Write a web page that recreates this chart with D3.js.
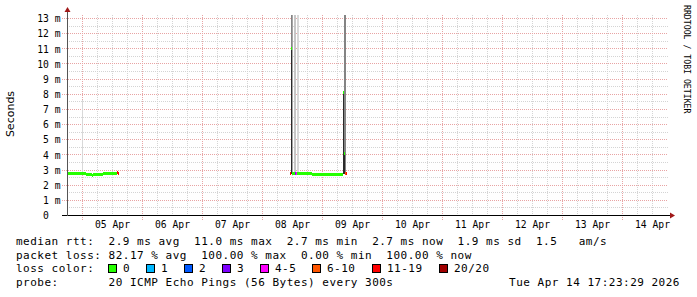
<!DOCTYPE html>
<html>
<head>
<meta charset="utf-8">
<script src="https://cdn.jsdelivr.net/npm/d3@7"></script>
<style>
  body { margin: 0; background: #fff; }
  text { font-family: "DejaVu Sans Mono", monospace; fill: #000; }
</style>
</head>
<body>
<svg id="chart" width="697" height="297"></svg>
<script>
// one entry per consolidated step (24 min per pixel at this zoom), null median = no data
const sampleTime = [
  '2026-04-04T18:00', '2026-04-05T00:00', '2026-04-05T00:24', '2026-04-05T01:36',
  '2026-04-05T04:00', '2026-04-05T04:24', '2026-04-05T08:24', '2026-04-05T14:00',
  '2026-04-05T14:24', '2026-04-05T14:48',
  '2026-04-08T11:12', '2026-04-08T11:36', '2026-04-08T12:00', '2026-04-08T12:24',
  '2026-04-08T12:48', '2026-04-08T13:12', '2026-04-08T13:36', '2026-04-08T14:00',
  '2026-04-08T14:24', '2026-04-08T14:48', '2026-04-08T20:00', '2026-04-09T00:00',
  '2026-04-09T05:00', '2026-04-09T08:00', '2026-04-09T08:24', '2026-04-09T08:48',
  '2026-04-09T09:12', '2026-04-09T09:36', '2026-04-09T10:00'
];
const medianMs = [
  2.75, 2.75, 2.75, 2.69, 2.64, 2.69, 2.75, 2.85, 2.8, null,
  2.75, 11.0, 2.75, 2.75, 2.78, 2.8, 2.8, 2.75, 2.75, 2.75, 2.73, 2.68,
  2.72, 2.72, 8.1, 4.1, 2.8, 2.8, null
];
const lossPings = [
  0, 0, 0, 0, 0, 0, 0, 15, 15, null,
  15, 0, 0, 0, 0, 3, 5, 0, 0, 0, 0, 0,
  0, 0, 0, 0, 8, 15, null
];
const smokeMinMs = [
  2.72, 2.72, 2.72, 2.66, 2.62, 2.66, 2.72, 2.82, 2.77, null,
  2.72, 2.7, 2.72, 2.72, 2.75, 2.77, 2.77, 2.72, 2.72, 2.72, 2.7, 2.66,
  2.7, 2.7, 2.7, 2.7, 2.77, 2.77, null
];
// top of the dense part of the smoke
const smokeInnerMs = [
  2.78, 2.78, 2.78, 2.72, 2.66, 2.72, 2.78, 2.88, 2.83, null,
  2.78, 11.0, 2.78, 2.78, 2.8, 2.83, 2.83, 2.78, 2.78, 2.78, 2.76, 2.7,
  2.74, 2.74, 8.1, 4.1, 2.83, 2.83, null
];
// highest ping and how many pings sit above the dense part
const smokeMaxMs = [
  2.78, 7.6, 2.78, 2.72, 2.66, 2.72, 2.78, 2.88, 2.83, null,
  2.78, 13.4, 13.4, 2.78, 13.4, 13.4, 2.83, 13.4, 13.4, 2.78, 2.76, 2.7,
  2.74, 2.74, 8.1, 13.4, 13.4, 2.83, null
];
const smokeOuterPings = [
  0, 1, 0, 0, 0, 0, 0, 0, 0, null,
  0, 6, 4, 0, 2, 2, 0, 1, 1, 0, 0, 0,
  0, 0, 0, 6, 6, 0, null
];

const yTicks = [0, 1, 2, 3, 4, 5, 6, 7, 8, 9, 10, 11, 12, 13];
const lossLabels = ['0', '1', '2', '3', '4-5', '6-10', '11-19', '20/20'];
const lossUpper = [0, 1, 2, 3, 5, 10, 19, 20];
const lossColors = ['#26ff00', '#00b8ff', '#0059ff', '#7e00ff', '#ff00ff', '#ff5500', '#ff0000', '#a10000'];
const rttStats = [['2.9 ms', 'avg'], ['11.0 ms', 'max'], ['2.7 ms', 'min'], ['2.7 ms', 'now'], ['1.9 ms', 'sd']];
const rttAmS = '1.5';
const lossStats = [['82.17 %', 'avg'], ['100.00 %', 'max'], ['0.00 %', 'min'], ['100.00 %', 'now']];
const probeText = '20 ICMP Echo Pings (56 Bytes) every 300s';
const stampText = 'Tue Apr 14 17:23:29 2026';

const nb = s => s.replace(/ /g, '\u00a0');
const parse = d3.utcParse('%Y-%m-%dT%H:%M');
const times = sampleTime.map(parse);
const step = 24 * 60 * 1000;

const svg = d3.select('#chart');

const x = d3.scaleUtc()
  .domain([new Date(Date.UTC(2026, 3, 4, 18)), new Date(Date.UTC(2026, 3, 14, 18))])
  .range([67, 667]);
const y = d3.scaleLinear().domain([0, 13.2]).range([215, 15]);

const px = v => Math.round(v) + 0.5;

// grid
const grid = svg.append('g').attr('shape-rendering', 'crispEdges').attr('stroke-dasharray', '1,1');

const minorY = d3.range(1, 27).map(d => d / 2).filter(d => d % 1 !== 0);
grid.selectAll('line.hmin')
  .data(minorY)
  .enter().append('line')
  .attr('x1', 67).attr('x2', 668)
  .attr('y1', d => px(y(d))).attr('y2', d => px(y(d)))
  .attr('stroke', '#d4d4d4');

const sixHours = d3.utcHour.every(6).range(x.domain()[0], x.domain()[1])
  .filter(d => d.getUTCHours() !== 0 && x(d) > 67);
grid.selectAll('line.vmin')
  .data(sixHours)
  .enter().append('line')
  .attr('x1', d => px(x(d))).attr('x2', d => px(x(d)))
  .attr('y1', 15).attr('y2', 215)
  .attr('stroke', '#d4d4d4');

grid.selectAll('line.hmaj')
  .data(yTicks.filter(d => d > 0))
  .enter().append('line')
  .attr('x1', 62).attr('x2', 668)
  .attr('y1', d => px(y(d))).attr('y2', d => px(y(d)))
  .attr('stroke', '#e8a4a4');

const days = d3.utcDay.range(x.domain()[0], x.domain()[1]);
grid.selectAll('line.vmaj')
  .data(days)
  .enter().append('line')
  .attr('x1', d => px(x(d))).attr('x2', d => px(x(d)))
  .attr('y1', 15).attr('y2', 220)
  .attr('stroke', '#e8a4a4');

// samples
const samples = times.map((t, i) => {
  const next = times[i + 1];
  const end = (next && medianMs[i + 1] !== null) ? next : new Date(+t + step);
  return {
    t, end,
    med: medianMs[i], loss: lossPings[i],
    lo: smokeMinMs[i], inner: smokeInnerMs[i], hi: smokeMaxMs[i], outer: smokeOuterPings[i]
  };
}).filter(d => d.med !== null);

const outerShade = d3.scaleLinear().domain([1, 6]).range(['#d8d8d8', '#848484']).clamp(true);
const lossColor = n => lossColors[lossUpper.findIndex(u => n <= u)];

svg.append('clipPath').attr('id', 'plot')
  .append('rect').attr('x', 67).attr('y', 15).attr('width', 601).attr('height', 200);

const smoke = svg.append('g').attr('clip-path', 'url(#plot)').attr('shape-rendering', 'crispEdges');

smoke.selectAll('rect.outer')
  .data(samples.filter(d => d.outer > 0))
  .enter().append('rect')
  .attr('x', d => Math.round(x(d.t)))
  .attr('width', d => Math.max(1, Math.round(x(d.end)) - Math.round(x(d.t))))
  .attr('y', d => y(d.hi))
  .attr('height', d => y(d.inner) - y(d.hi))
  .attr('fill', d => outerShade(d.outer));

// the dense band only shows where it rises clear of the median line
smoke.selectAll('rect.inner')
  .data(samples.filter(d => y(d.lo) - y(d.inner) > 3))
  .enter().append('rect')
  .attr('x', d => Math.round(x(d.t)))
  .attr('width', d => Math.max(1, Math.round(x(d.end)) - Math.round(x(d.t))))
  .attr('y', d => y(d.inner))
  .attr('height', d => y(d.lo) - y(d.inner))
  .attr('fill', '#2a2a2a');

// median rtt, coloured by packet loss
svg.append('g')
  .attr('shape-rendering', 'crispEdges')
  .selectAll('rect')
  .data(samples)
  .enter().append('rect')
  .attr('x', d => Math.round(x(d.t)))
  .attr('width', d => Math.max(1, Math.round(x(d.end)) - Math.round(x(d.t))))
  .attr('y', d => Math.round(y(d.med)) - 1)
  .attr('height', 3)
  .attr('fill', d => lossColor(d.loss));

// axes
svg.append('line')
  .attr('x1', 62).attr('x2', 670).attr('y1', 215.5).attr('y2', 215.5)
  .attr('stroke', '#000');
svg.append('line')
  .attr('x1', 67.5).attr('x2', 67.5).attr('y1', 216).attr('y2', 11)
  .attr('stroke', '#555');
svg.append('path')
  .attr('d', 'M670,212.5L675,215.5L670,218.5Z')
  .attr('fill', '#a01818');
svg.append('path')
  .attr('d', 'M64.5,12L67.5,7L70.5,12Z')
  .attr('fill', '#a01818');

// tick labels
const yAxis = d3.axisLeft(y)
  .tickValues(yTicks)
  .tickSize(0)
  .tickPadding(0)
  .tickFormat(d => d === 0 ? nb('0  ') : d + '\u00a0m');
svg.append('g')
  .attr('transform', 'translate(60.5,0)')
  .call(yAxis)
  .call(g => g.select('.domain').remove())
  .selectAll('text')
  .attr('dy', null)
  .attr('y', 3.7)
  .style('font-family', '"DejaVu Sans Mono", monospace')
  .style('font-size', '9.7px')
  .attr('fill', '#000');

const noons = days.map(d => d3.utcHour.offset(d, 12));
const xAxis = d3.axisBottom(x)
  .tickValues(noons)
  .tickSize(0)
  .tickPadding(0)
  .tickFormat(d3.utcFormat('%d %b'));
svg.append('g')
  .attr('transform', 'translate(0,228)')
  .call(xAxis)
  .call(g => g.select('.domain').remove())
  .selectAll('text')
  .attr('dy', null)
  .attr('y', 0)
  .style('font-family', '"DejaVu Sans Mono", monospace')
  .style('font-size', '9.7px')
  .attr('fill', '#000');

// vertical title
svg.append('text')
  .attr('transform', 'translate(13.5,114) rotate(-90)')
  .attr('text-anchor', 'middle')
  .style('font-family', '"DejaVu Sans", sans-serif')
  .style('font-size', '11px')
  .attr('fill', '#222')
  .text('Seconds');

// watermark
svg.append('text')
  .attr('transform', 'translate(684,5) rotate(90)')
  .style('font-size', '8.2px')
  .attr('fill', '#b4b4b4')
  .text('RRDTOOL / TOBI OETIKER');

// legend
const legend = svg.append('g')
  .style('font-size', '11px')
  .style('letter-spacing', '0.5px');

const line1 = 'median rtt:  ' + rttStats.map(s => s.join(' ')).join('  ') + '  ' + rttAmS + '   am/s';
const line2 = 'packet loss: ' + lossStats.map(s => s.join(' ')).join('  ');
const line4 = 'probe:       ' + probeText;

legend.append('text').attr('x', 16).attr('y', 245).text(nb(line1));
legend.append('text').attr('x', 16).attr('y', 258.7).text(nb(line2));
legend.append('text').attr('x', 16).attr('y', 272.4).text(nb('loss color:'));
legend.append('text').attr('x', 16).attr('y', 286).text(nb(line4));
legend.append('text').attr('x', 680).attr('y', 286).attr('text-anchor', 'end').text(nb(stampText));

let cursor = 16 + 13 * 7.1;
lossLabels.forEach((label, i) => {
  legend.append('rect')
    .attr('x', Math.round(cursor) + 0.5).attr('y', 264.5)
    .attr('width', 8).attr('height', 8)
    .attr('fill', lossColors[i])
    .attr('stroke', '#000');
  const t = legend.append('text')
    .attr('x', Math.round(cursor) + 15).attr('y', 272.4)
    .text(label);
  cursor = Math.round(cursor) + 15 + t.node().getComputedTextLength() + 16;
});
</script>
</body>
</html>
